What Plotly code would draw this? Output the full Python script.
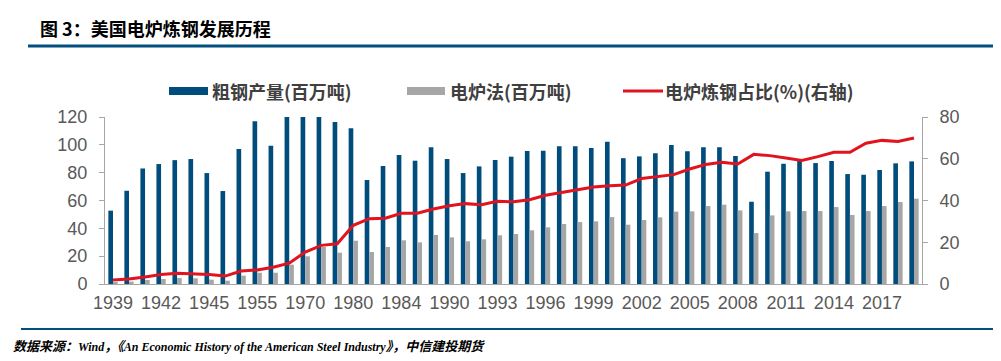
import plotly.graph_objects as go

years = ["1939", "1940", "1941", "1942", "1943", "1944", "1945", "1946",
         "1950", "1955", "1960", "1965", "1970", "1973", "1975",
         "1980", "1982", "1983", "1984", "1985", "1988",
         "1990", "1991", "1992", "1993", "1994", "1995", "1996", "1997", "1998", "1999",
         "2000", "2001", "2002", "2003", "2004", "2005", "2006", "2007", "2008", "2009",
         "2010", "2011", "2012", "2013", "2014", "2015", "2016", "2017", "2018", "2019"]

crude_steel = [52.7, 67, 83, 86.2, 89, 89.8, 79.7, 66.8,
               97, 116.9, 99.4, 120, 120, 120, 116.4,
               112, 74.7, 84.8, 92.7, 88.6, 98.2,
               89.8, 79.7, 84.5, 89.1, 91.5, 95.5, 95.8, 98.9, 98.9, 97.7,
               102.3, 90.4, 91.7, 93.9, 99.9, 95.3, 98.2, 98.2, 92, 59.1,
               80.7, 86.4, 88.6, 86.9, 88.4, 79, 78.5, 81.9, 86.7, 88.1]

eaf_steel = [1.2, 1.7, 2.9, 3.6, 4.3, 4.1, 3.1, 2.4,
             6, 8.1, 8.1, 13.9, 19.9, 26.6, 22.5,
             31.1, 23, 26.6, 31.4, 29.9, 35.2,
             33.5, 30.7, 32.1, 35, 35.9, 38.6, 40.7, 43.1, 44.5, 45,
             48.1, 42.6, 46, 47.9, 52, 52.2, 56, 57, 52.9, 36.6,
             49.3, 52.2, 52.4, 52.4, 55.3, 49.6, 52.4, 56, 58.9, 61.3]

eaf_share = [1.9, 2.4, 3.4, 4.5, 5.1, 4.8, 4.5, 3.8,
             6.2, 6.7, 8, 10, 15.3, 18.5, 19.3,
             28.1, 31.3, 31.5, 33.9, 33.9, 35.9,
             37.5, 38.5, 38, 39.6, 39.4, 40.4, 42.5, 43.8, 45.2, 46.5,
             47.1, 47.4, 50.5, 51.3, 52.4, 55.1, 57.3, 58.3, 57.5, 62.1,
             61.5, 60.4, 59.2, 61, 63.1, 63.1, 67.4, 68.8, 68.3, 69.9]

tick_labels = ["1939", "1942", "1945", "1955", "1970", "1980", "1984", "1990", "1993",
               "1996", "1999", "2002", "2005", "2008", "2011", "2014", "2017"]

series_names = ["粗钢产量(百万吨)", "电炉法(百万吨)", "电炉炼钢占比(%)(右轴)"]

DARK = "#004c7c"
GRAY = "#a6a6a6"
RED = "#e0141e"
TICK = "#595959"
NUM_FONT = "Liberation Sans, Arial, sans-serif"
CJK = "Noto Sans CJK SC, sans-serif"

fig = go.Figure()
fig.add_trace(go.Bar(x=years, y=crude_steel, name=series_names[0],
                     marker=dict(color=DARK, line=dict(width=0)), yaxis="y"))
fig.add_trace(go.Bar(x=years, y=eaf_steel, name=series_names[1],
                     marker=dict(color=GRAY, line=dict(width=0)), yaxis="y"))
fig.add_trace(go.Scatter(x=years, y=eaf_share, name=series_names[2], mode="lines",
                         line=dict(color=RED, width=3), yaxis="y2"))

W, H = 1001, 361
L, R, T, B = 97, 914, 109, 276

fig.update_layout(
    template="none",
    width=W, height=H,
    margin=dict(l=L, r=W - R, t=T, b=H - B, pad=0, autoexpand=False),
    paper_bgcolor="white", plot_bgcolor="white",
    showlegend=False,
    barmode="group", bargap=0.42, bargroupgap=0.0,
    xaxis=dict(type="category", categoryorder="array", categoryarray=years,
               tickmode="array", tickvals=tick_labels, ticktext=tick_labels,
               tickfont=dict(family=NUM_FONT, size=18, color=TICK),
               ticklabelstandoff=2,
               showline=True, linecolor="#a6a6a6", linewidth=1,
               ticks="", showgrid=False, zeroline=False, automargin=False),
    yaxis=dict(range=[0, 120], tickvals=[0, 20, 40, 60, 80, 100, 120],
               tickfont=dict(family=NUM_FONT, size=18, color=TICK),
               ticklabelstandoff=8,
               showline=True, linecolor="#a6a6a6", linewidth=1,
               ticks="outside", ticklen=5, tickcolor="#a6a6a6",
               showgrid=False, zeroline=False, automargin=False),
    yaxis2=dict(range=[0, 80], tickvals=[0, 20, 40, 60, 80], overlaying="y", side="right",
                tickfont=dict(family=NUM_FONT, size=18, color=TICK),
                ticklabelstandoff=8,
                showline=True, linecolor="#a6a6a6", linewidth=1,
                ticks="outside", ticklen=5, tickcolor="#a6a6a6",
                showgrid=False, zeroline=False, automargin=False),
)

# pixel -> paper (plot-area relative) coordinates
def px_x(x):
    return (x - L) / (R - L)

def px_y(y):
    return (B - y) / (B - T)

shapes = []
annotations = []

# title and rules
annotations.append(dict(xref="paper", yref="paper", x=px_x(30), y=px_y(20),
                        xanchor="left", yanchor="middle", showarrow=False,
                        text="<b>图 3：美国电炉炼钢发展历程</b>",
                        font=dict(family=CJK, size=18, color="black")))
shapes.append(dict(type="line", xref="paper", yref="paper",
                   x0=px_x(20), x1=px_x(1001), y0=px_y(38), y1=px_y(38),
                   line=dict(color="#004f7e", width=3)))
shapes.append(dict(type="line", xref="paper", yref="paper",
                   x0=px_x(13), x1=px_x(1001), y0=px_y(321), y1=px_y(321),
                   line=dict(color="#004f7e", width=2)))
annotations.append(dict(xref="paper", yref="paper", x=px_x(3), y=px_y(338),
                        xanchor="left", yanchor="middle", showarrow=False,
                        text="<b><i>数据来源：<span style='font-size:12px'>Wind</span>，《<span style='font-size:12px'>An Economic History of the American Steel Industry</span>》，中信建投期货</i></b>",
                        font=dict(family="Liberation Serif, Noto Sans CJK SC, serif", size=13, color="black")))

# custom legend
leg_y = 83
legend_items = [
    (161, 200, "rect", DARK, series_names[0], 202),
    (399, 437, "rect", GRAY, series_names[1], 440),
    (615, 655, "line", RED, series_names[2], 655),
]
for x0, x1, kind, col, label, tx in legend_items:
    if kind == "rect":
        shapes.append(dict(type="rect", xref="paper", yref="paper",
                           x0=px_x(x0), x1=px_x(x1), y0=px_y(leg_y - 4), y1=px_y(leg_y + 4),
                           fillcolor=col, line=dict(width=0)))
    else:
        shapes.append(dict(type="line", xref="paper", yref="paper",
                           x0=px_x(x0), x1=px_x(x1), y0=px_y(leg_y), y1=px_y(leg_y),
                           line=dict(color=col, width=3)))
    annotations.append(dict(xref="paper", yref="paper", x=px_x(tx), y=px_y(leg_y),
                            xanchor="left", yanchor="middle", showarrow=False,
                            text="<b>" + label + "</b>",
                            font=dict(family=CJK, size=18, color="#404040")))

fig.update_layout(shapes=shapes, annotations=annotations)
fig.write_html("out.html")
